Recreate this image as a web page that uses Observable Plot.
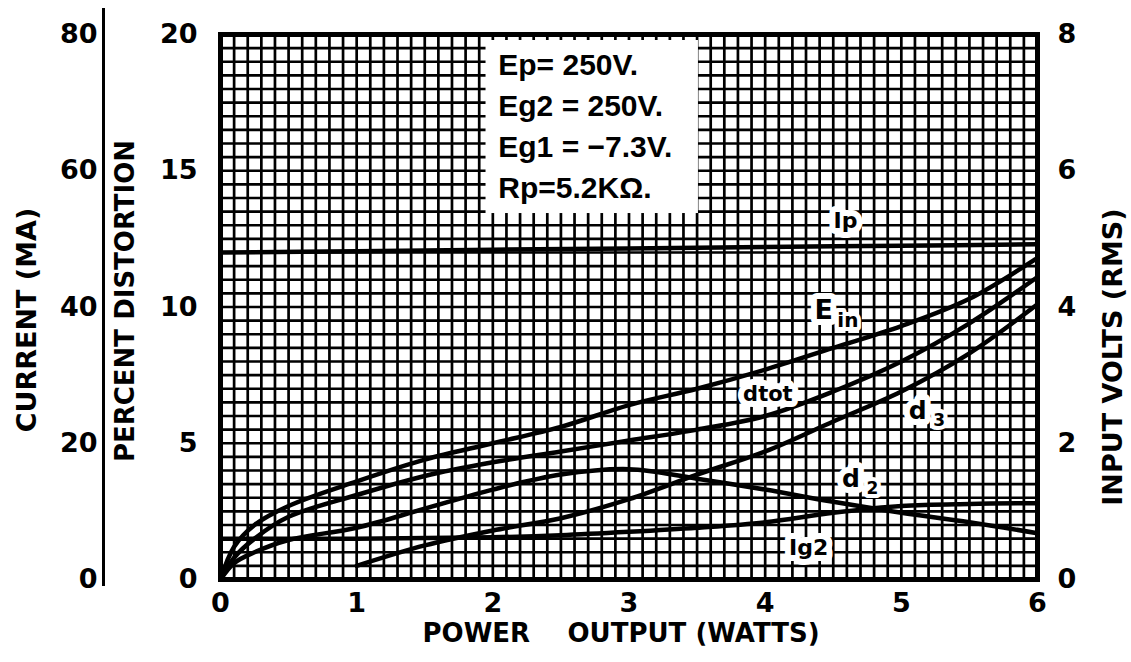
<!DOCTYPE html>
<html>
<head>
<meta charset="utf-8">
<script src="https://cdn.jsdelivr.net/npm/d3@7"></script>
<script src="https://cdn.jsdelivr.net/npm/@observablehq/plot@0.6"></script>
<style>
  html, body { margin: 0; padding: 0; background: #fff; }
  #chart svg { display: block; }
</style>
</head>
<body>
<div id="chart"></div>
<script>
// ---- data ----
const power      = [0, 0.1, 0.25, 0.5, 1, 1.5, 2, 2.5, 3, 3.5, 4, 4.5, 5, 5.5, 6];   // watts
const einVolts   = [0, 0.48, 0.8, 1.08, 1.44, 1.76, 2.0, 2.24, 2.56, 2.8, 3.08, 3.4, 3.72, 4.12, 4.72]; // V rms
const dTotPct    = [0, 0.8, 1.5, 2.3, 3.1, 3.8, 4.3, 4.7, 5.1, 5.5, 6.0, 6.9, 8.0, 9.4, 11.1];
const d2Pct      = [0, 0.6, 1.0, 1.45, 1.9, 2.6, 3.3, 3.85, 4.05, 3.7, 3.3, 2.85, 2.45, 2.1, 1.7];
const powerD3    = [1.0, 1.5, 2, 2.5, 3, 3.5, 4, 4.5, 5, 5.5, 6];
const d3Pct      = [0.5, 1.25, 1.8, 2.25, 2.95, 3.85, 4.7, 5.8, 6.9, 8.3, 10.1];
const powerIp    = [0, 1, 2, 3, 4, 5, 6];
const ipMA       = [48, 48.2, 48.4, 48.6, 48.8, 49, 49.2];
const powerIg2   = [0, 1, 2, 2.5, 3, 3.5, 4, 4.5, 5, 5.5, 6];
const ig2MA      = [6.0, 6.0, 6.2, 6.5, 7.0, 7.6, 8.4, 9.8, 10.8, 11.1, 11.2];

// tick labels
const powerTicks   = [0, 1, 2, 3, 4, 5, 6];
const distTicks    = [0, 5, 10, 15, 20];
const currentTicks = [0, 20, 40, 60, 80];
const voltTicks    = [0, 2, 4, 6, 8];

// operating conditions text
const paramLines = ["Ep= 250V.", "Eg2 = 250V.", "Eg1 = \u22127.3V.", "Rp=5.2K\u03A9."];

// ---- scale conversions onto the shared 0–20 grid ----
const MA_TO_PCT = 1 / 4;     // 80 MA  <-> 20 %
const V_TO_PCT  = 2.5;       // 8 V    <-> 20 %

const toRows = (xs, ys, k, name) => xs.map((x, i) => ({x, y: ys[i] * k, name}));
const curves = [
  ...toRows(powerIp, ipMA, MA_TO_PCT, "Ip"),
  ...toRows(power, einVolts, V_TO_PCT, "Ein"),
  ...toRows(power, dTotPct, 1, "dtot"),
  ...toRows(powerD3, d3Pct, 1, "d3"),
  ...toRows(power, d2Pct, 1, "d2"),
  ...toRows(powerIg2, ig2MA, MA_TO_PCT, "Ig2")
];

// curve labels (annotation placement)
const labelMain = [
  {t: "Ip",   x: 4.59, y: 13.17, fs: 22, anchor: "middle"},
  {t: "E",    x: 4.43, y: 9.87,  fs: 27, anchor: "start"},
  {t: "dtot", x: 4.02, y: 6.79,  fs: 21, anchor: "middle"},
  {t: "d",    x: 5.12, y: 6.2,   fs: 25, anchor: "start"},
  {t: "d",    x: 4.63, y: 3.7,   fs: 25, anchor: "start"},
  {t: "Ig2",  x: 4.32, y: 1.17,  fs: 22, anchor: "middle"}
];
const labelSub = [
  {t: "in", x: 4.53, y: 9.5,  fs: 20},
  {t: "3",  x: 5.235, y: 5.85, fs: 17},
  {t: "2",  x: 4.745, y: 3.35, fs: 17}
];

const FONT = "'DejaVu Sans', sans-serif";
const BOXFONT = "'Liberation Sans', Arial, sans-serif";
const gridXs = d3.range(0, 61).map(i => i / 10);
const gridYs = d3.range(0, 41).map(i => i / 2);
const fmtInt = d => String(Math.round(d));

const chart = Plot.plot({
  width: 1131,
  height: 662,
  marginTop: 34,
  marginRight: 94,
  marginBottom: 83,
  marginLeft: 220,
  style: {fontFamily: FONT, color: "black", background: "white"},
  x: {domain: [0, 6], label: null},
  y: {domain: [0, 20], label: null},
  marks: [
    Plot.gridX(gridXs, {stroke: "black", strokeOpacity: 1, strokeWidth: 2.7}),
    Plot.gridY(gridYs, {stroke: "black", strokeOpacity: 1, strokeWidth: 2.7}),
    Plot.frame({stroke: "black", strokeWidth: 5}),
    // operating-conditions box
    Plot.rect([0], {x1: 1.95, x2: 3.51, y1: 13.43, y2: 19.78, fill: "white"}),
    Plot.text(paramLines, {
      x: 2.04, y: (d, i) => 18.85 - i * 1.5, text: d => d,
      textAnchor: "start", fontSize: 30, fontWeight: "bold", fontFamily: BOXFONT, fill: "black"
    }),
    // curves
    Plot.line(curves, {x: "x", y: "y", z: "name", stroke: "black", strokeWidth: 4.5, curve: "catmull-rom"}),
    // curve labels
    Plot.text(labelMain, {
      x: "x", y: "y", text: "t", fontSize: d => d.fs, textAnchor: d => d.anchor,
      fontWeight: "bold", fill: "black", stroke: "white", strokeWidth: 12, strokeLinejoin: "round"
    }),
    Plot.text(labelSub, {
      x: "x", y: "y", text: "t", fontSize: d => d.fs, textAnchor: "start",
      fontWeight: "bold", fill: "black", stroke: "white", strokeWidth: 8, strokeLinejoin: "round"
    }),
    // axes
    Plot.axisX({ticks: powerTicks, tickFormat: fmtInt, tickSize: 0, tickPadding: 13, fontSize: 27, fontWeight: "bold", label: null}),
    Plot.axisY({ticks: distTicks, tickFormat: fmtInt, tickSize: 0, tickPadding: 23, fontSize: 27, fontWeight: "bold", label: null}),
    Plot.axisY({
      ticks: currentTicks.map(c => c * MA_TO_PCT), tickFormat: d => fmtInt(d / MA_TO_PCT),
      tickSize: 0, tickPadding: 123, fontSize: 27, fontWeight: "bold", label: null
    }),
    Plot.axisY({
      anchor: "right", ticks: voltTicks.map(v => v * V_TO_PCT), tickFormat: d => fmtInt(d / V_TO_PCT),
      tickSize: 0, tickPadding: 20, fontSize: 27, fontWeight: "bold", label: null
    }),
    // current-scale rule
    Plot.ruleX([0], {dx: -117, y1: -0.26, y2: 20.95, stroke: "black", strokeWidth: 3}),
    // axis titles
    Plot.text(["CURRENT (MA)"], {frameAnchor: "left", textAnchor: "middle", dx: -193, dy: 13, rotate: -90, text: d => d, fontSize: 27, fontWeight: "bold"}),
    Plot.text(["PERCENT DISTORTION"], {frameAnchor: "left", textAnchor: "middle", dx: -95, dy: -6, rotate: -90, text: d => d, fontSize: 26, fontWeight: "bold"}),
    Plot.text(["INPUT VOLTS (RMS)"], {frameAnchor: "right", textAnchor: "middle", dx: 76, dy: 50, rotate: -90, text: d => d, fontSize: 27, fontWeight: "bold"}),
    Plot.text(["POWER"], {frameAnchor: "bottom-left", dx: 202, dy: 62, textAnchor: "start", text: d => d, fontSize: 26, fontWeight: "bold"}),
    Plot.text(["OUTPUT (WATTS)"], {frameAnchor: "bottom-left", dx: 347, dy: 62, textAnchor: "start", text: d => d, fontSize: 26, fontWeight: "bold"})
  ]
});

document.getElementById("chart").appendChild(chart);
</script>
</body>
</html>
